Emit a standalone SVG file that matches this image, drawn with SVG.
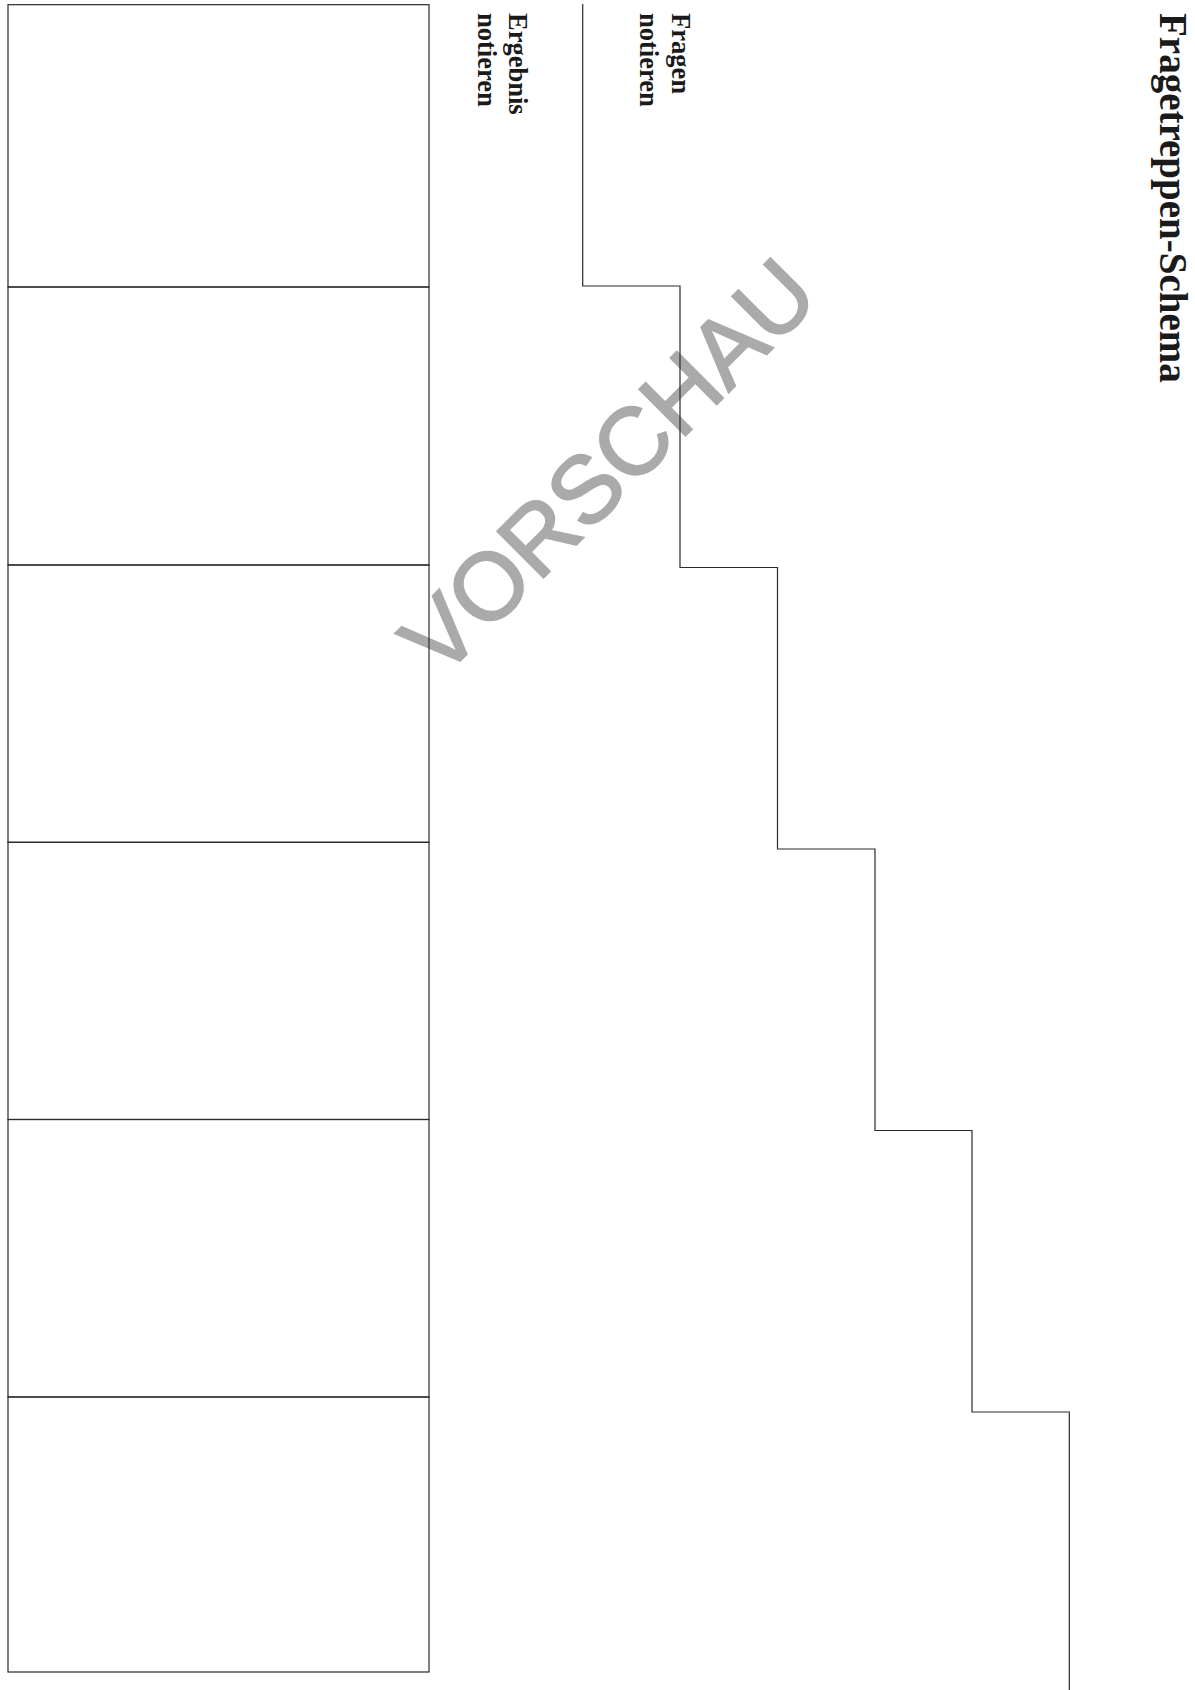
<svg xmlns="http://www.w3.org/2000/svg" width="1195" height="1690" viewBox="0 0 1195 1690">
<style>
.ln{fill:none;stroke:#2a2a2a;stroke-width:1.2}
.lbl{font-family:"Liberation Serif","Times New Roman",serif;font-weight:bold;fill:#1a1a1a}
.wm{font-family:"Liberation Sans",Arial,sans-serif;fill:#aaaaaa;stroke:#aaaaaa;stroke-width:2;stroke-linejoin:miter}
</style>
<rect width="1195" height="1690" fill="#ffffff"/>
<g id="watermark">
<text class="wm" x="441" y="680" font-size="95" transform="rotate(-45 441 680)">VORSCHAU</text>
</g>
<g id="title">
<text class="lbl" x="1160" y="13" font-size="39" transform="rotate(90 1160 13)">Fragetreppen-Schema</text>
</g>
<g id="label-fragen">
<text class="lbl" font-size="26.5" transform="rotate(90 672 13)" x="672" y="13">Fragen<tspan x="672" dy="32">notieren</tspan></text>
</g>
<g id="label-ergebnis">
<text class="lbl" font-size="26.5" transform="rotate(90 508.5 13)" x="508.5" y="13">Ergebnis<tspan x="508.5" dy="30.5">notieren</tspan></text>
</g>
<g id="boxes">
<rect id="box1" class="ln" x="8" y="4.7" width="421" height="282.3"/>
<rect id="box2" class="ln" x="8" y="287" width="421" height="278"/>
<rect id="box3" class="ln" x="8" y="565" width="421" height="277.3"/>
<rect id="box4" class="ln" x="8" y="842.3" width="421" height="277.2"/>
<rect id="box5" class="ln" x="8" y="1119.5" width="421" height="277.5"/>
<rect id="box6" class="ln" x="8" y="1397" width="421" height="275"/>
</g>
<g id="connectors">
<path id="stairs" class="ln" d="M582.7 4 V286 H680 V567.5 H777.5 V849 H875 V1130.5 H972 V1412 H1069.3 V1690"/>
</g>
</svg>
